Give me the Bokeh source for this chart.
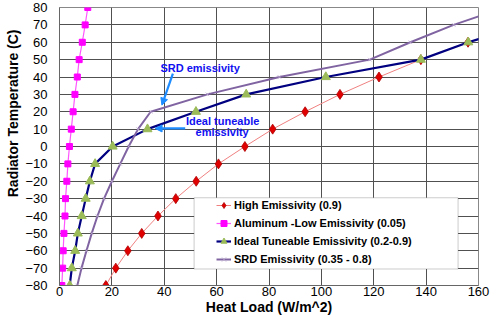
from bokeh.plotting import figure
from bokeh.models import (Range1d, FixedTicker, Legend, LegendItem, Label, Arrow,
                          NormalHead, BoxAnnotation, Title)
from bokeh.embed import file_html
from bokeh.resources import INLINE

# ---- data ----
temps = [-80, -70, -60, -50, -40, -30, -20, -10, 0, 10, 20, 30, 40, 50, 60]
high_emis = [17.7, 21.5, 26.1, 31.4, 37.6, 44.4, 52.2, 60.7, 70.8, 81.4, 93.8, 107.1, 122.0, 138.0, 156.0]

alu_temps = [-80, -70, -60, -50, -40, -30, -20, -10, 0, 10, 20, 30, 40, 50, 60, 70, 80]
alu_low = [0.9, 1.2, 1.4, 1.7, 2.1, 2.3, 2.8, 3.2, 3.8, 4.5, 5.2, 5.9, 6.8, 7.5, 8.7, 9.8, 10.8]

ideal_temps = [-80, -70, -60, -50, -40, -30, -20, -10, 0, 10, 20, 30, 40, 50, 60, 70]
ideal_tune = [3.9, 4.7, 6.0, 7.0, 8.5, 10.0, 11.6, 13.6, 20.3, 33.6, 52.1, 71.3, 101.7, 138.0, 156.1, 178.0]

srd_temps = [-80, -70, -60, -50, -40, -30, -20, -10, 0, 10, 20, 30, 40, 50, 60, 70, 80]
srd_emis = [6.8, 8.4, 10.3, 12.3, 14.5, 17.0, 20.0, 23.2, 26.4, 30.0, 34.8, 56.5, 84.0, 118.5, 134.0, 150.5, 170.0]

series_names = ["High Emissivity (0.9)", "Aluminum -Low Emissivity (0.05)",
                "Ideal Tuneable Emissivity (0.2-0.9)", "SRD Emissivity (0.35 - 0.8)"]
x_ticks = [0, 20, 40, 60, 80, 100, 120, 140, 160]
y_ticks = [-80, -70, -60, -50, -40, -30, -20, -10, 0, 10, 20, 30, 40, 50, 60, 70, 80]

FONT = "Liberation Sans"

p = figure(width=491, height=319, output_backend="svg", toolbar_location=None,
           x_range=Range1d(0, 160), y_range=Range1d(-80, 80),
           min_border_left=59, min_border_right=13, min_border_top=7, min_border_bottom=34)
p.background_fill_color = "white"
p.border_fill_color = "white"
p.outline_line_color = "#888888"

p.xaxis.ticker = FixedTicker(ticks=x_ticks)
p.yaxis.ticker = FixedTicker(ticks=y_ticks)
for ax in (p.xaxis[0], p.yaxis[0]):
    ax.major_tick_out = 0
    ax.major_tick_in = 0
    ax.minor_tick_out = 0
    ax.minor_tick_in = 0
    ax.axis_line_color = "#666666"
    ax.major_label_text_font = FONT
    ax.major_label_text_font_size = "13px"
    ax.major_label_text_color = "black"
p.yaxis.major_label_standoff = 12
p.xaxis.major_label_standoff = 1
p.xaxis.axis_label = "Heat Load (W/m^2)"
p.xaxis.axis_label_text_font = FONT
p.xaxis.axis_label_text_font_size = "14px"
p.xaxis.axis_label_text_font_style = "bold"
p.xaxis.axis_label_text_color = "black"
p.xaxis.axis_label_standoff = 0

p.xgrid.ticker = FixedTicker(ticks=x_ticks)
p.ygrid.ticker = FixedTicker(ticks=y_ticks)
p.grid.grid_line_color = "#505050"
p.grid.grid_line_width = 1
p.grid.grid_line_alpha = 1

# y-axis title, placed toward the top like the reference
ytitle = Title(text="Radiator Temperature (C)", align="right", offset=22,
               standoff=3, text_font=FONT, text_font_size="14px",
               text_font_style="bold", text_color="black")
p.add_layout(ytitle, "left")

# ---- series ----
r1l = p.line(high_emis, temps, line_color="#F08080", line_width=1)
r1m = p.scatter(high_emis, temps, marker="diamond", size=10, fill_color="#E00000",
                line_color="#B00000", line_width=0.8)

r2l = p.line(alu_low, alu_temps, line_color="#FF55FF", line_width=1.2)
r2m = p.scatter(alu_low, alu_temps, marker="square", size=6, fill_color="#FF00FF",
                line_color="#FF00FF")

r3l = p.line(ideal_tune, ideal_temps, line_color="#000080", line_width=2.2)
r3m = p.scatter(ideal_tune, ideal_temps, marker="triangle", size=9, fill_color="#9BBB59",
                line_color="#9BBB59")

r4l = p.line(srd_emis, srd_temps, line_color="#8064A2", line_width=2)
r4m = p.scatter(srd_emis, srd_temps, marker="x", size=5, line_color="#B8A6CC",
                line_width=1, line_alpha=0.8)

# ---- legend box + legend ----
box = BoxAnnotation(left=51.4, right=152.2, bottom=-70.5, top=-29.5,
                    fill_color="white", fill_alpha=1, line_color="#555555", line_width=1)
p.add_layout(box)

legend = Legend(items=[
    LegendItem(label=series_names[0], renderers=[r1l, r1m]),
    LegendItem(label=series_names[1], renderers=[r2l, r2m]),
    LegendItem(label=series_names[2], renderers=[r3l, r3m]),
    LegendItem(label=series_names[3], renderers=[r4l, r4m]),
], location=(157, 17), orientation="vertical")
legend.padding = 0
legend.margin = 0
legend.spacing = 0
legend.glyph_width = 15
legend.glyph_height = 18
legend.label_height = 18
legend.label_standoff = 3
legend.label_text_font = FONT
legend.label_text_font_size = "11px"
legend.label_text_font_style = "bold"
legend.label_text_color = "black"
legend.border_line_alpha = 0
legend.background_fill_alpha = 0
p.add_layout(legend)

# ---- annotations ----
TXT_BLUE = "#1010F0"
ARR_BLUE = "#1E8CFF"
p.add_layout(Label(x=53.7, y=45.3, text="SRD emissivity", text_align="center",
                   text_baseline="middle", text_font=FONT, text_font_size="11px",
                   text_font_style="bold", text_color=TXT_BLUE))
p.add_layout(Label(x=62.3, y=14.8, text="Ideal tuneable", text_align="center",
                   text_baseline="middle", text_font=FONT, text_font_size="11px",
                   text_font_style="bold", text_color=TXT_BLUE))
p.add_layout(Label(x=62.1, y=8.1, text="emissivity", text_align="center",
                   text_baseline="middle", text_font=FONT, text_font_size="11px",
                   text_font_style="bold", text_color=TXT_BLUE))

p.add_layout(Arrow(x_start=43.3, y_start=42.0, x_end=39.1, y_end=23.8,
                   line_color=ARR_BLUE, line_width=2.2,
                   end=NormalHead(size=7, fill_color=ARR_BLUE, line_color=ARR_BLUE)))
p.add_layout(Arrow(x_start=48.0, y_start=10.4, x_end=36.5, y_end=10.4,
                   line_color=ARR_BLUE, line_width=2.2,
                   end=NormalHead(size=7, fill_color=ARR_BLUE, line_color=ARR_BLUE)))

open("out.html", "w").write(file_html(p, INLINE))
